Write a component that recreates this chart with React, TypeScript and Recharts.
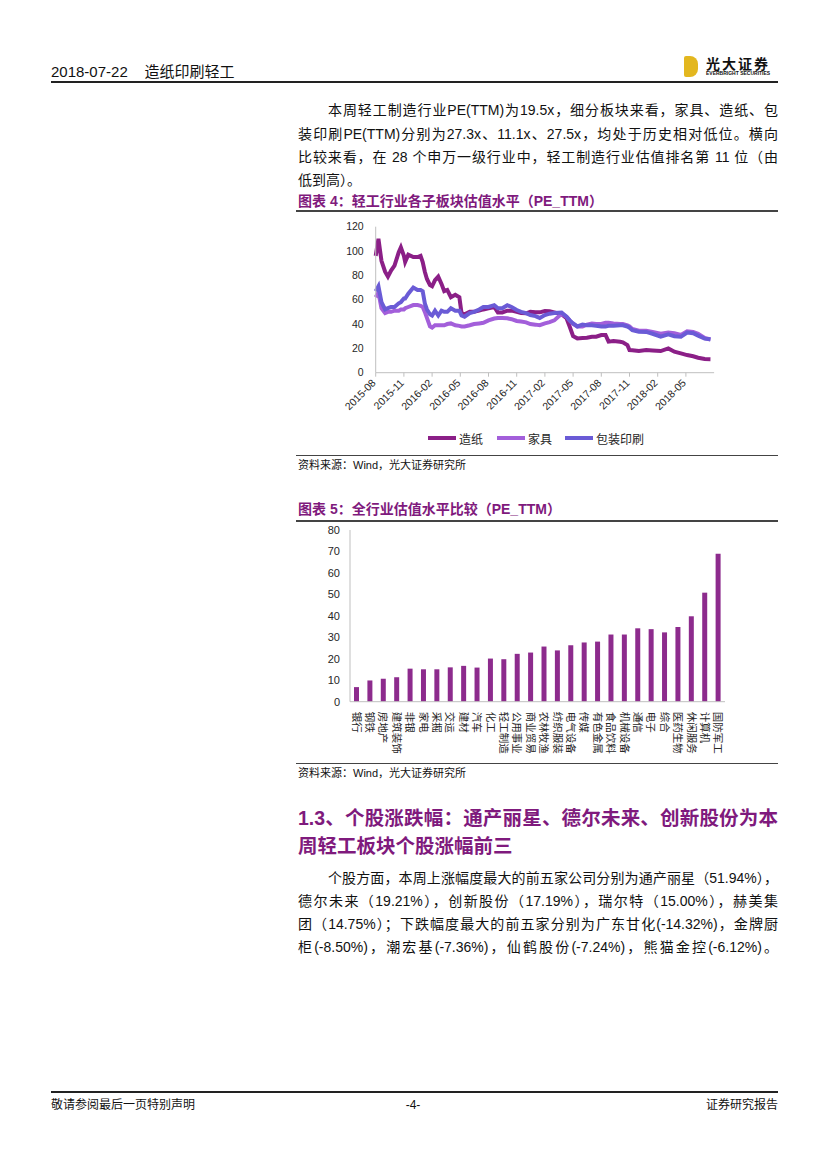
import React from 'react';
import { LineChart, Line, BarChart, Bar, XAxis, YAxis } from 'recharts';

// 图表4：轻工行业各子板块估值水平 (PE_TTM)
const peDates = [
  '2015-08-01', '2015-08-10', '2015-08-20', '2015-09-01', '2015-09-10', '2015-09-20',
  '2015-10-01', '2015-10-15', '2015-10-22', '2015-11-01', '2015-11-05', '2015-11-15',
  '2015-12-01', '2015-12-15', '2015-12-25', '2016-01-01', '2016-01-08', '2016-01-15',
  '2016-01-25', '2016-02-01', '2016-02-10', '2016-02-20', '2016-03-01', '2016-03-10',
  '2016-03-20', '2016-04-01', '2016-04-15', '2016-04-28', '2016-05-05', '2016-05-15',
  '2016-06-01', '2016-06-15', '2016-07-01', '2016-07-15', '2016-08-01', '2016-08-20',
  '2016-09-01', '2016-09-15', '2016-10-01', '2016-10-15', '2016-11-01', '2016-11-15',
  '2016-12-01', '2016-12-15', '2017-01-01', '2017-01-15', '2017-02-01', '2017-02-15',
  '2017-03-01', '2017-03-25', '2017-04-10', '2017-04-20', '2017-05-01', '2017-05-15',
  '2017-06-01', '2017-06-15', '2017-07-01', '2017-07-15', '2017-08-01', '2017-08-15',
  '2017-08-25', '2017-09-10', '2017-10-01', '2017-10-10', '2017-10-25', '2017-11-01',
  '2017-11-10', '2017-12-01', '2017-12-25', '2018-01-15', '2018-02-10', '2018-03-05',
  '2018-03-25', '2018-04-15', '2018-05-05', '2018-05-25', '2018-06-10', '2018-07-01',
  '2018-07-20',
];

const paperPE = [
  96, 110, 92, 83, 79, 84,
  88, 99, 103, 96, 91, 97,
  95, 95, 96, 91, 83, 77,
  72, 71, 76, 79, 73, 67,
  68, 62, 64, 62, 49, 48,
  50, 50, 51, 52, 53, 54,
  49.5, 49.5, 51, 51, 50, 49,
  48.8, 50, 49.6, 49.6, 50.7, 50.5,
  49.6, 48, 44.7, 38, 30, 28.2,
  28.5, 28.8, 29.6, 29.6, 31, 31,
  25.5, 26, 25.5, 25, 22.7, 18.6,
  18.5, 17.8, 18.6, 18.2, 17.8, 20,
  17.3, 15.9, 14.5, 13.5, 12.3, 11.2,
  11.1,
];

const furniturePE = [
  62, 66, 53, 49, 50, 50,
  51, 51, 52, 52, 53, 54,
  55.6, 55.6, 55, 54, 50, 45,
  38, 37, 39, 39, 39, 39,
  40, 40.5, 39, 38.5, 38, 38,
  39, 40, 40.5, 41, 43, 44.5,
  45, 45, 44.7, 44, 42.5, 42,
  41.4, 40, 39.5, 39, 40.5, 41.5,
  43, 48.5, 46, 43, 40, 38,
  38, 39.5, 40.5, 40, 40, 41,
  41, 40.5, 40, 40, 39, 38,
  36, 34.5, 34.5, 33.5, 32, 33,
  32.5, 31, 34, 33.5, 32, 28.5,
  27.3,
];

const packagingPE = [
  67, 71, 58, 52, 53, 54,
  54, 57, 58, 61, 61, 65,
  70, 68, 68, 67, 57, 52,
  48, 47, 51, 47, 51, 50,
  50, 53, 51, 51, 47, 46,
  49, 50, 52, 54, 54, 55.5,
  53, 53, 55.5, 54, 51.5, 50,
  49, 47.4, 46.5, 45, 47.4, 48.5,
  49, 49.5, 46, 43, 40.5, 38,
  39.5, 39, 39, 38.5, 38, 38,
  38.5, 38.5, 39, 39, 38, 37,
  35, 33.7, 33.5, 32, 29.6, 31.5,
  30, 29.5, 33, 32.5, 30.5, 28,
  27.5,
];

const peTicks = [0, 3, 6, 9, 12, 15, 18, 21, 24, 27, 30, 33];
const peYTicks = [0, 20, 40, 60, 80, 100, 120];

// 图表5：全行业估值水平比较 (PE_TTM)
const industries = [
  '银行', '钢铁', '房地产', '建筑装饰', '非银', '家电', '采掘', '交运', '建材', '汽车',
  '化工', '轻工制造', '公用事业', '商业贸易', '农林牧渔', '纺织服装', '电气设备', '传媒',
  '有色金属', '食品饮料', '机械设备', '通信', '电子', '综合', '医药生物', '休闲服务',
  '计算机', '国防军工',
];
const industryPE = [
  6.8, 9.9, 10.7, 11.4, 15.4, 15.1, 15.1, 16.0, 16.7, 15.9,
  20.1, 19.8, 22.3, 22.9, 25.7, 23.9, 26.3, 27.6,
  28.0, 31.3, 31.3, 34.2, 33.8, 32.3, 34.8, 39.8,
  50.8, 68.9,
];
const industryYTicks = [0, 10, 20, 30, 40, 50, 60, 70, 80];

const paperColor = '#8B1F87';
const furnitureColor = '#A35FDA';
const packagingColor = '#6A5BD6';
const barColor = '#8D2B8D';
const titleColor = '#7F1A7D';
const axisColor = '#BFBFBF';

const FONT = '"Liberation Sans", "Noto Sans CJK SC", sans-serif';

const monthIndex = (d: string) => {
  const [y, m, day] = d.split('-').map(Number);
  const dim = new Date(y, m, 0).getDate();
  return (y - 2015) * 12 + (m - 8) + (day - 1) / dim;
};

const peData = peDates.map((d, i) => ({
  t: monthIndex(d),
  paper: paperPE[i],
  furniture: furniturePE[i],
  packaging: packagingPE[i],
}));

const industryData = industries.map((name, i) => ({ name, pe: industryPE[i] }));

const tickLabel = (t: number) => {
  const total = 7 + t; // months from 2015-01
  const y = 2015 + Math.floor(total / 12);
  const m = (total % 12) + 1;
  return `${y}-${m < 10 ? '0' + m : m}`;
};

const DateTick = (props: any) => {
  const { x, y, payload } = props;
  const ax = x - 2;
  const ay = y + 2;
  return (
    <text
      x={ax}
      y={ay}
      transform={`rotate(-45, ${ax}, ${ay})`}
      textAnchor="end"
      dominantBaseline="central"
      fontSize={10.5}
      fontFamily={FONT}
      fill="#262626"
    >
      {tickLabel(payload.value)}
    </text>
  );
};

const IndustryTick = (props: any) => {
  const { x, y, payload } = props;
  const ay = y + 2;
  return (
    <text
      x={x}
      y={ay}
      transform={`rotate(90, ${x}, ${ay})`}
      textAnchor="start"
      dominantBaseline="central"
      fontSize={10.5}
      fontFamily={FONT}
      fill="#262626"
    >
      {payload.value}
    </text>
  );
};

const abs = (left: number, top: number, extra: React.CSSProperties = {}): React.CSSProperties => ({
  position: 'absolute',
  left,
  top,
  ...extra,
});

const Rule = ({ x1, x2, y, w = 1, color = '#333' }: { x1: number; x2: number; y: number; w?: number; color?: string }) => (
  <div style={abs(x1, y - w / 2, { width: x2 - x1, height: w, background: color })} />
);

const JLine = ({ y, text, indent = 0, last = false, size = 14 }: { y: number; text: string; indent?: number; last?: boolean; size?: number }) => (
  <div
    style={abs(298 + indent, y - 11, {
      width: 480 - indent,
      height: 22,
      lineHeight: '22px',
      fontSize: size,
      whiteSpace: 'nowrap',
      textAlign: 'justify',
      textAlignLast: last ? 'left' : 'justify',
      color: '#111',
    })}
  >
    {text}
  </div>
);

const LegendItem = ({ color, label, left }: { color: string; label: string; left: number }) => (
  <div style={abs(left, 430, { display: 'flex', alignItems: 'center', height: 16 })}>
    <div style={{ width: 28, height: 4, background: color, marginRight: 3 }} />
    <span style={{ fontSize: 12, color: '#262626' }}>{label}</span>
  </div>
);

export default function App() {
  return (
    <div style={{ position: 'absolute', left: 0, top: 0, width: 827, height: 1169, background: '#fff', fontFamily: FONT, color: '#111' }}>
      {/* header */}
      <div style={abs(51, 62, { fontSize: 15, lineHeight: '20px', whiteSpace: 'nowrap' })}>
        2018-07-22&nbsp;&nbsp;&nbsp;&nbsp;造纸印刷轻工
      </div>
      <Rule x1={51} x2={778} y={82} w={1.2} color="#222" />
      <div style={abs(684, 56, { width: 14, height: 21, background: '#E3B71F', borderRadius: '2px 8px 8px 2px' })} />
      <div style={abs(706, 53, { fontSize: 14, fontWeight: 700, letterSpacing: 2, whiteSpace: 'nowrap' })}>光大证券</div>
      <div style={abs(706, 70, { fontSize: 5, fontWeight: 700, whiteSpace: 'nowrap' })}>EVERBRIGHT SECURITIES</div>

      {/* paragraph */}
      <JLine y={110} indent={30} text="本周轻工制造行业PE(TTM)为19.5x，细分板块来看，家具、造纸、包" />
      <JLine y={134} text="装印刷PE(TTM)分别为27.3x、11.1x、27.5x，均处于历史相对低位。横向" />
      <JLine y={157} text="比较来看，在 28 个申万一级行业中，轻工制造行业估值排名第 11 位（由" />
      <JLine y={180} last text="低到高）。" />

      {/* figure 4 */}
      <div style={abs(298, 192, { fontSize: 14, fontWeight: 700, color: titleColor, whiteSpace: 'nowrap', lineHeight: '18px' })}>
        图表 4：轻工行业各子板块估值水平（PE_TTM）
      </div>
      <Rule x1={296} x2={778} y={211} w={2} color="#444" />
      <div style={abs(290, 215)}>
        <LineChart width={440} height={200} data={peData} margin={{ top: 11.7, right: 15.9, left: 0, bottom: 0 }}>
          <XAxis
            dataKey="t"
            type="number"
            domain={[0, 36]}
            ticks={peTicks}
            height={42.3}
            stroke={axisColor}
            tickSize={4}
            tick={<DateTick />}
            interval={0}
          />
          <YAxis
            domain={[0, 120]}
            ticks={peYTicks}
            width={85.7}
            stroke={axisColor}
            tickLine={false}
            tickMargin={6}
            tick={{ fontSize: 10.5, fill: '#262626', fontFamily: FONT }}
          />
          <Line dataKey="paper" stroke={paperColor} strokeWidth={4} dot={false} isAnimationActive={false} />
          <Line dataKey="furniture" stroke={furnitureColor} strokeWidth={4} dot={false} isAnimationActive={false} />
          <Line dataKey="packaging" stroke={packagingColor} strokeWidth={4} dot={false} isAnimationActive={false} />
        </LineChart>
      </div>
      <LegendItem color={paperColor} label="造纸" left={428} />
      <LegendItem color={furnitureColor} label="家具" left={497} />
      <LegendItem color={packagingColor} label="包装印刷" left={565} />
      <Rule x1={296} x2={778} y={455} w={1} color="#444" />
      <div style={abs(298, 458, { fontSize: 11, whiteSpace: 'nowrap', lineHeight: '14px' })}>资料来源：Wind，光大证券研究所</div>

      {/* figure 5 */}
      <div style={abs(298, 500, { fontSize: 14, fontWeight: 700, color: titleColor, whiteSpace: 'nowrap', lineHeight: '18px' })}>
        图表 5：全行业估值水平比较（PE_TTM）
      </div>
      <Rule x1={296} x2={778} y={521} w={2} color="#444" />
      <div style={abs(290, 522)}>
        <BarChart width={440} height={240} data={industryData} margin={{ top: 8, right: 5, left: 0, bottom: 0 }}>
          <XAxis
            dataKey="name"
            height={60.3}
            stroke={axisColor}
            tickLine={false}
            interval={0}
            tick={<IndustryTick />}
          />
          <YAxis
            domain={[0, 80]}
            ticks={industryYTicks}
            width={60}
            stroke={axisColor}
            tickLine={false}
            tickMargin={4}
            tick={{ fontSize: 11, fill: '#262626', fontFamily: FONT }}
          />
          <Bar dataKey="pe" fill={barColor} barSize={5} isAnimationActive={false} />
        </BarChart>
      </div>
      <Rule x1={296} x2={778} y={763} w={1} color="#444" />
      <div style={abs(298, 766, { fontSize: 11, whiteSpace: 'nowrap', lineHeight: '14px' })}>资料来源：Wind，光大证券研究所</div>

      {/* section 1.3 */}
      <div style={abs(298, 805, { fontSize: 19.5, fontWeight: 700, color: titleColor, whiteSpace: 'nowrap', lineHeight: '26px', width: 480, textAlign: 'justify', textAlignLast: 'justify' })}>
        1.3、个股涨跌幅：通产丽星、德尔未来、创新股份为本
      </div>
      <div style={abs(298, 833, { fontSize: 19.5, fontWeight: 700, color: titleColor, whiteSpace: 'nowrap', lineHeight: '26px' })}>
        周轻工板块个股涨幅前三
      </div>
      <JLine y={878} indent={30} text="个股方面，本周上涨幅度最大的前五家公司分别为通产丽星（51.94%），" />
      <JLine y={901} text="德尔未来（19.21%），创新股份（17.19%），瑞尔特（15.00%），赫美集" />
      <JLine y={924} text="团（14.75%）；下跌幅度最大的前五家分别为广东甘化(-14.32%)，金牌厨" />
      <JLine y={947} text="柜(-8.50%)，潮宏基(-7.36%)，仙鹤股份(-7.24%)，熊猫金控(-6.12%)。" />

      {/* footer */}
      <Rule x1={51} x2={778} y={1092} w={1.2} color="#222" />
      <div style={abs(51, 1097, { fontSize: 12, whiteSpace: 'nowrap', lineHeight: '16px' })}>敬请参阅最后一页特别声明</div>
      <div style={abs(393, 1097, { fontSize: 12, whiteSpace: 'nowrap', lineHeight: '16px', width: 40, textAlign: 'center' })}>-4-</div>
      <div style={abs(678, 1097, { fontSize: 12, whiteSpace: 'nowrap', lineHeight: '16px', width: 100, textAlign: 'right' })}>证券研究报告</div>
    </div>
  );
}
